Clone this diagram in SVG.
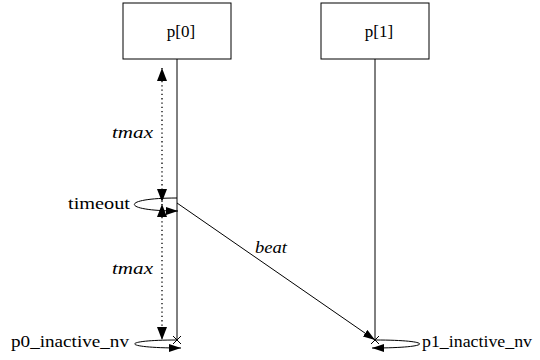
<svg xmlns="http://www.w3.org/2000/svg" width="540" height="360" viewBox="0 0 540 360">
<defs>
<style>
.box{fill:#fff;stroke:#000;stroke-width:1}
.life{stroke:#000;stroke-width:1;fill:none}
.msg{stroke:#000;stroke-width:1;fill:none}
.dot{stroke:#000;stroke-width:1.3;fill:none;stroke-dasharray:1.3 3}
.s{font-family:"Liberation Serif","DejaVu Serif",serif;font-size:17px;fill:#000}
.i{font-style:italic}
</style>
<marker id="big" viewBox="0 0 13 10" refX="13" refY="5" markerWidth="13" markerHeight="10" markerUnits="userSpaceOnUse" orient="auto-start-reverse">
<path d="M0,0 L13,5 L0,10 z" fill="#000"/>
</marker>
<marker id="sm" viewBox="0 0 12 8" refX="12" refY="4" markerWidth="12" markerHeight="8" markerUnits="userSpaceOnUse" orient="auto">
<path d="M0,0 L12,4 L0,8 z" fill="#000"/>
</marker>
</defs>
<rect width="540" height="360" fill="#fff"/>
<g id="p0">
<line class="life" x1="177" y1="59" x2="177" y2="340"/>
<rect class="box" x="123" y="3" width="108" height="56"/>
<text class="s" x="181" y="37" text-anchor="middle">p[0]</text>
</g>
<g id="p1">
<line class="life" x1="375" y1="59" x2="375" y2="340"/>
<rect class="box" x="321" y="3" width="108" height="56"/>
<text class="s" x="379" y="37" text-anchor="middle">p[1]</text>
</g>
<g id="connectors">
<line class="dot" x1="162" y1="68" x2="162" y2="202" marker-start="url(#big)" marker-end="url(#big)"/>
<line class="dot" x1="162" y1="204" x2="162" y2="340" marker-start="url(#big)" marker-end="url(#big)"/>
<path class="msg" d="M177,198 C120,198 120,211 178,211" marker-end="url(#sm)"/>
<line class="msg" x1="177" y1="203" x2="375" y2="340" marker-end="url(#sm)"/>
<path class="msg" d="M177,340 C120,340 120,348 181,348" marker-end="url(#sm)"/>
<path class="msg" d="M375,340 C435,340 435,348 372,348" marker-end="url(#sm)"/>
<path class="msg" d="M173,336 L181,344 M181,336 L173,344"/>
<path class="msg" d="M371,336 L379,344 M379,336 L371,344"/>
</g>
<g id="labels">
<text class="s i" x="112" y="138" textLength="41" lengthAdjust="spacingAndGlyphs">tmax</text>
<text class="s i" x="112" y="274" textLength="41" lengthAdjust="spacingAndGlyphs">tmax</text>
<text class="s" x="68" y="209" textLength="62" lengthAdjust="spacingAndGlyphs">timeout</text>
<text class="s i" x="255" y="253" textLength="32" lengthAdjust="spacingAndGlyphs">beat</text>
<text class="s" x="11" y="347" textLength="118" lengthAdjust="spacingAndGlyphs">p0_inactive_nv</text>
<text class="s" x="422" y="347" textLength="110" lengthAdjust="spacingAndGlyphs">p1_inactive_nv</text>
</g>
</svg>
